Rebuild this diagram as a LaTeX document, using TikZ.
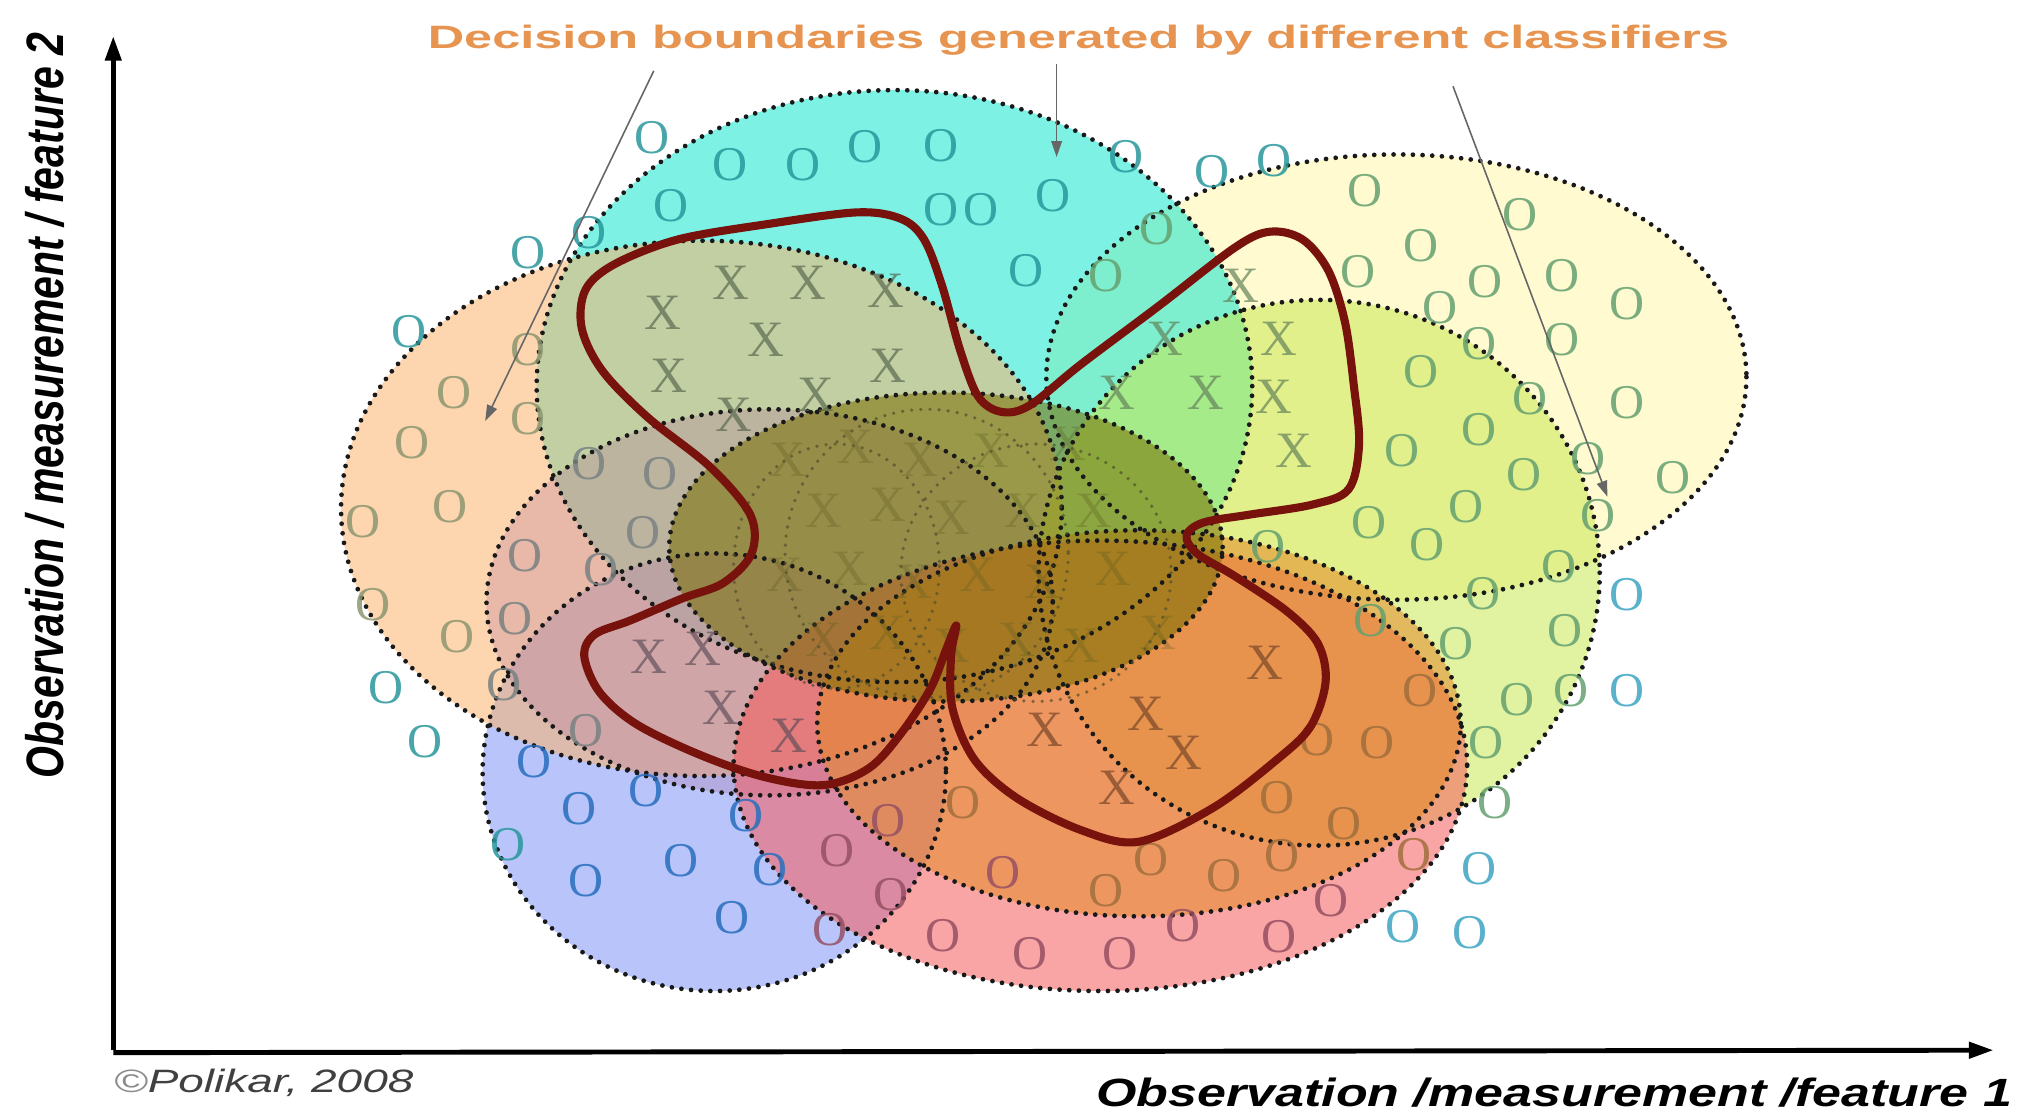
\documentclass[tikz,border=0pt]{standalone}
\usepackage{fontspec}
\setmainfont{Liberation Serif}
\newfontfamily\lsans{Liberation Sans}
\usetikzlibrary{arrows.meta}
\definecolor{fYellow}{RGB}{255,246,170}
\definecolor{fCyan}{RGB}{19,231,206}
\definecolor{fBlue}{RGB}{125,148,246}
\definecolor{fPeach}{RGB}{251,180,111}
\definecolor{fLime}{RGB}{200,232,82}
\definecolor{fMauve}{RGB}{170,100,150}
\definecolor{fPink}{RGB}{246,91,91}
\definecolor{fOrange}{RGB}{228,138,40}
\definecolor{fCenter}{RGB}{120,110,0}
\definecolor{bred}{RGB}{120,18,12}
\definecolor{titleorange}{RGB}{230,148,80}
\definecolor{oteal}{RGB}{40,150,155}
\definecolor{ocyan}{RGB}{60,165,195}
\definecolor{ogreen}{RGB}{100,160,112}
\definecolor{oblue}{RGB}{40,110,190}
\definecolor{obrown}{RGB}{160,110,60}
\definecolor{omauve}{RGB}{150,80,100}
\definecolor{ogray}{RGB}{120,130,130}
\definecolor{oolive}{RGB}{140,150,110}
\definecolor{xsage}{RGB}{90,105,80}
\definecolor{xgreen}{RGB}{100,130,90}
\definecolor{xbrown}{RGB}{120,70,40}
\definecolor{xmauve}{RGB}{100,80,90}
\definecolor{xcent}{RGB}{90,90,30}
\begin{document}
\begin{tikzpicture}[x=0.01287cm,y=-0.01287cm,
  ell/.style={fill opacity=0.55},
  rim/.style={draw=black!90, line width=1.35pt, dash pattern=on 0pt off 2.75pt, line cap=round},
  inrim/.style={draw=black!55!olive, line width=1.05pt, dash pattern=on 0pt off 2.6pt, line cap=round, draw opacity=0.7},
  omark/.style={inner sep=0pt, font=\fontsize{13.8}{14}\selectfont, text opacity=0.85},
  xmark/.style={inner sep=0pt, font=\fontsize{14.5}{15}\selectfont, text opacity=0.7},
  boundary/.style={draw=bred, line width=2.3pt, line join=round},
  axis/.style={line width=1.4pt, -{Triangle[length=7pt,width=4.5pt]}},
  leader/.style={draw=black!60, line width=0.45pt, -{Triangle[length=4.5pt,width=3pt]}}
]
\useasboundingbox (0,0) rectangle (1568,866);

% fills
\foreach \cx/\cy/\rx/\ry/\col in {1085/293/272/173/fYellow, 695/300/278/230/fCyan, 555/600/180/170/fBlue, 545/395/280/208/fPeach, 1025/445/218/212/fLime}
  \fill[ell, \col] (\cx,\cy) ellipse [x radius=\rx, y radius=\ry];
\fill[fMauve, fill opacity=0.25] (598,468) ellipse [x radius=220, y radius=150];
\foreach \cx/\cy/\rx/\ry/\col in {855/595/285/175/fPink, 885/562/250/150/fOrange, 735/425/215/120/fCenter}
  \fill[ell, \col] (\cx,\cy) ellipse [x radius=\rx, y radius=\ry];

% dotted rims
\foreach \cx/\cy/\rx/\ry in {1085/293/272/173, 695/300/278/230, 555/600/180/170, 545/395/280/208, 1025/445/218/212, 598/468/220/150, 855/595/285/175, 885/562/250/150, 735/425/215/120}
  \draw[rim] (\cx,\cy) ellipse [x radius=\rx, y radius=\ry];
\draw[inrim] (720,430) ellipse [x radius=110, y radius=112];
\draw[inrim] (805,445) ellipse [x radius=105, y radius=100];
\draw[inrim] (650,440) ellipse [x radius=80, y radius=95];

% O markers
\foreach \x/\y [count=\i] in {507/107,567/128,624/128,672/114,731/113,521/160,731/163,762/163,818/152,875/122,942/133,990/125,797/210,458/181,410/196,318/258,300/534,330/576,395/656}
  \node[omark, text=oteal] (ot\i) at (\x,\y) {O};
\foreach \x/\y [count=\i] in {353/305,320/344,350/394,282/405,290/470,355/495,410/272,410/325}
  \node[omark, text=oolive] (oo\i) at (\x,\y) {O};
\foreach \x/\y [count=\i] in {458/360,513/368,500/414,467/443,408/432,400/481,392/532,455/568}
  \node[omark, text=ogray] (og\i) at (\x,\y) {O};
\foreach \x/\y [count=\i] in {415/592,502/614,450/628,455/684,529/669,569/713,580/634,598/676}
  \node[omark, text=oblue] (ob\i) at (\x,\y) {O};
\foreach \x/\y [count=\i] in {645/722,690/638,650/661,692/695,733/727,800/741,870/741,919/719,994/728,1034/700,779/678}
  \node[omark, text=omauve] (om\i) at (\x,\y) {O};
\foreach \x/\y [count=\i] in {748/624,894/668,951/680,996/665,859/692,992/620,1044/640,1099/664,1023/575,1070/577,1103/537}
  \node[omark, text=obrown] (obr\i) at (\x,\y) {O};
\foreach \x/\y [count=\i] in {1264/462,1264/537,1149/675,1090/720,1142/725}
  \node[omark, text=ocyan] (oc\i) at (\x,\y) {O};
\foreach \x/\y [count=\i] in {1061/148,1181/167,1104/191,1055/211,1154/219,1214/214,1264/236,1119/239,1149/267,1214/264,1104/289,1189/310,1264/313,1149/334,1089/350,1234/356,1184/369,1300/371,1139/394,1064/406,1242/401,1109/423,1211/440,1152/461,1216/490,1131/500,1179/544,1221/537,1155/577,1162/624,985/425,1065/482,859/214,899/178}
  \node[omark, text=ogreen] (ogr\i) at (\x,\y) {O};

% X markers
\foreach \x/\y [count=\i] in {515/243,568/220,628/220,688/226,595/264,520/292,690/284,634/307,570/322}
  \node[xmark, text=xsage] (xs\i) at (\x,\y) {X};
\foreach \x/\y [count=\i] in {964/222,994/263,990/308,1005/350,905/263,868/305,937/305}
  \node[xmark, text=xgreen] (xg\i) at (\x,\y) {X};
\foreach \x/\y [count=\i] in {983/515,812/567,890/555,920/585,868/612}
  \node[xmark, text=xbrown] (xb\i) at (\x,\y) {X};
\foreach \x/\y [count=\i] in {504/510,546/504,560/550,613/572}
  \node[xmark, text=xmauve] (xm\i) at (\x,\y) {X};
\foreach \x/\y [count=\i] in {612/357,665/347,715/357,770/350,830/345,640/397,690/392,740/402,795/397,850/397,610/447,660/442,710/452,760/447,810/452,865/442,640/497,690/492,740/502,790/497,840/502,900/492}
  \node[xmark, text=xcent, text opacity=0.3] (xc\i) at (\x,\y) {X};

% decision boundary
\draw[boundary] plot[smooth cycle, tension=0.55] coordinates {
 (562,453) (584,430) (583,400) (552,363) (503,324) (468,288) (452,255) (455,225) (478,205) (527,186) (597,174) (666,165) (700,170) (718,186) (732,222) (746,272) (760,308) (778,320) (800,315) (840,283) (900,238) (960,192) (987,180) (1012,186) (1032,210) (1045,250) (1052,300) (1056,345) (1048,380) (1020,392) (970,400) (935,406) (922,416) (930,430) (960,448) (1000,475) (1024,500) (1030,530) (1018,565) (990,592) (942,628) (885,654) (840,645) (790,620) (757,590) (740,550) (739,510) (743,486) (735,505) (723,535) (700,570) (675,597) (640,610) (595,604) (545,587) (495,563) (466,538) (454,510) (462,493) (490,482) (530,465)};

% axes
\coordinate (orig) at (88,816);
\coordinate (ytip) at (88,28);
\coordinate (xtip) at (1549,816);
\draw[axis] (orig) -- (ytip);
\draw[axis] ([yshift=-0.7pt]orig) -- (xtip);

% title and leaders
\node[anchor=base, inner sep=0pt, text=titleorange, font=\lsans\bfseries\fontsize{9.2}{11}\selectfont] (title) at (838,37.5) {\scalebox{1.56}[1]{Decision boundaries generated by different classifiers}};
\coordinate (l1s) at (508,55); \coordinate (l1e) at (377,327);
\coordinate (l2s) at (821,50); \coordinate (l2e) at (821,122);
\coordinate (l3s) at (1129,67); \coordinate (l3e) at (1249,386);
\draw[leader] (l1s) -- (l1e);
\draw[leader] (l2s) -- (l2e);
\draw[leader] (l3s) -- (l3e);

% axis labels
\node[anchor=base, rotate=90, inner sep=0pt, font=\lsans\bfseries\itshape\fontsize{10.7}{12}\selectfont] (ylab) at (49,315) {\scalebox{1.09}[1.4]{Observation / measurement / feature 2}};
\node[anchor=base east, inner sep=0pt, font=\lsans\bfseries\itshape\fontsize{11.2}{13}\selectfont] (xlab) at (1564,860) {\scalebox{1.32}[1]{Observation /measurement /feature 1}};
\node[anchor=base west, inner sep=0pt, text=black!75, font=\lsans\itshape\fontsize{9.2}{11}\selectfont] (copy) at (88,849) {\scalebox{1.42}[1]{\textcolor{black!45}{\char"00A9}Polikar, 2008}};
\end{tikzpicture}
\end{document}
